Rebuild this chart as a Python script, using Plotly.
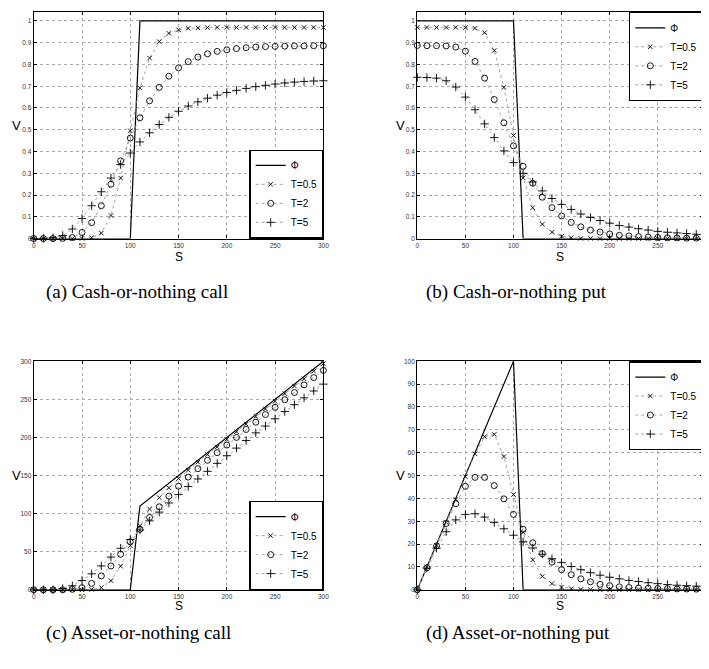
import plotly.graph_objects as go

# The page body has an 8px margin, so the figure is sized/positioned to compensate.
OFF = 8
W, H = 709 - OFF, 669 - OFF


def px(xp):
    return min(max((xp - OFF) / W, 0), 1)


def py(yp):
    return min(max(1 - (yp - OFF) / H, 0), 1)


S = [0, 10, 20, 30, 40, 50, 60, 70, 80, 90, 100, 110, 120, 130, 140, 150,
     160, 170, 180, 190, 200, 210, 220, 230, 240, 250, 260, 270, 280, 290, 300]

# (a) Cash-or-nothing call
a_phi = [0]*11 + [1]*20
a_T05 = [0, 0, 0, 0, 0, 0.001, 0.004, 0.025, 0.106, 0.278, 0.495, 0.693, 0.829, 0.905, 0.943, 0.959,
         0.966, 0.968, 0.969, 0.970, 0.970, 0.970, 0.970, 0.970, 0.970, 0.970, 0.970, 0.970, 0.970, 0.970, 0.970]
a_T2 = [0, 0, 0, 0.001, 0.005, 0.028, 0.073, 0.151, 0.250, 0.357, 0.462, 0.555, 0.633, 0.695, 0.746, 0.784,
        0.813, 0.834, 0.849, 0.860, 0.867, 0.873, 0.877, 0.880, 0.882, 0.883, 0.884, 0.885, 0.885, 0.886, 0.886]
a_T5 = [0, 0.001, 0.004, 0.014, 0.044, 0.092, 0.151, 0.215, 0.278, 0.340, 0.393, 0.444, 0.486, 0.524, 0.557, 0.585,
        0.609, 0.628, 0.645, 0.659, 0.671, 0.681, 0.690, 0.698, 0.704, 0.710, 0.715, 0.719, 0.722, 0.724, 0.725]

# (b) Cash-or-nothing put
b_phi = [1]*11 + [0]*20
b_T05 = [0.970, 0.970, 0.970, 0.970, 0.970, 0.969, 0.966, 0.946, 0.864, 0.695, 0.474, 0.279, 0.142, 0.066, 0.029, 0.011,
         0.004, 0.001, 0.001, 0, 0, 0, 0, 0, 0, 0, 0, 0, 0, 0, 0]
b_T2 = [0.887, 0.886, 0.886, 0.885, 0.880, 0.861, 0.814, 0.737, 0.639, 0.532, 0.426, 0.332, 0.254, 0.190, 0.142, 0.104,
        0.074, 0.054, 0.039, 0.030, 0.021, 0.015, 0.012, 0.009, 0.007, 0.005, 0.004, 0.003, 0.002, 0.002, 0.001]
b_T5 = [0.741, 0.740, 0.737, 0.725, 0.696, 0.650, 0.592, 0.527, 0.464, 0.403, 0.349, 0.300, 0.260, 0.219, 0.184, 0.157,
        0.134, 0.113, 0.097, 0.083, 0.071, 0.060, 0.053, 0.045, 0.039, 0.033, 0.029, 0.026, 0.023, 0.020, 0.018]

# (c) Asset-or-nothing call
c_phi = [0]*11 + [110, 120, 130, 140, 150, 160, 170, 180, 190, 200, 210, 220, 230, 240, 250, 260, 270, 280, 290, 300]
c_T05 = [0, 0, 0, 0, 0, 0, 0.5, 3, 12, 31, 58, 84, 106, 121, 134, 146,
         157, 167.5, 177.5, 187.5, 197.5, 207.5, 217.5, 227.5, 237.5, 247.5, 257.5, 267.5, 277, 287, 297]
c_T2 = [0, 0, 0, 0, 0.7, 2.7, 8.4, 18.3, 31.3, 46.7, 63, 79.5, 95, 109, 123, 136,
        148, 159, 170, 180, 190, 200, 210.5, 220, 230, 239.5, 249.5, 259, 269, 278.5, 288]
c_T5 = [0, 0, 0.1, 1.7, 5.3, 12.2, 21, 31.4, 43, 54.6, 66, 78.5, 90.5, 102, 114, 125,
        135.5, 145.5, 155.5, 166, 176, 186, 196, 206, 215, 224.5, 234, 243, 252, 261, 270]

# (d) Asset-or-nothing put
d_phi = [0, 10, 20, 30, 40, 50, 60, 70, 80, 90, 100] + [0]*20
d_T05 = [0, 10, 19.5, 29.5, 39.5, 49.5, 59.5, 67, 68, 58.3, 41.7, 25.1, 13.1, 5.9, 2.7, 1.2,
         0.5, 0.2, 0.1, 0, 0, 0, 0, 0, 0, 0, 0, 0, 0, 0, 0]
d_T2 = [0, 9.6, 19.2, 29, 37.7, 45.3, 49.2, 49.2, 45.6, 39.8, 33, 26.5, 20.6, 15.8, 12.1, 8.8,
        6.6, 4.8, 3.5, 2.4, 1.8, 1.3, 1.0, 0.8, 0.7, 0.6, 0.5, 0.4, 0.35, 0.3, 0.3]
d_T5 = [0, 9.5, 18.2, 25.4, 30.6, 33, 33.3, 31.8, 29.4, 26.7, 23.9, 21, 18.3, 15.6, 13.6, 11.9,
        10.2, 8.8, 7.5, 6.4, 5.5, 4.8, 4.1, 3.6, 3.1, 2.7, 2.3, 2.0, 1.8, 1.6, 1.4]

legend_names = ["\u03a6", "T=0.5", "T=2", "T=5"]
captions = ["(a) Cash-or-nothing call", "(b) Cash-or-nothing put",
            "(c) Asset-or-nothing call", "(d) Asset-or-nothing put"]

panels = [
    (a_phi, a_T05, a_T2, a_T5),
    (b_phi, b_T05, b_T2, b_T5),
    (c_phi, c_T05, c_T2, c_T5),
    (d_phi, d_T05, d_T2, d_T5),
]

# target screen pixel boxes (left, right, top, bottom); top row clipped at the page margin
boxes = [(32, 325, 8, 237), (420, 709, 8, 237), (32, 325, 361, 592), (420, 709, 361, 592)]
xranges = [[0, 300], [0, 297], [0, 300], [0, 297]]
yranges = [[0, 1.041], [0, 1.041], [0, 300], [0, 100]]
ycash = ([0, 0.1, 0.2, 0.3, 0.4, 0.5, 0.6, 0.7, 0.8, 0.9, 1],
         ["0", "0.1", "0.2", "0.3", "0.4", "0.5", "0.6", "0.7", "0.8", "0.9", "1"])
yticks = [
    ycash, ycash,
    ([0, 50, 100, 150, 200, 250, 300], ["0", "50", "100", "150", "200", "250", "300"]),
    ([0, 10, 20, 30, 40, 50, 60, 70, 80, 90, 100],
     ["0", "10", "20", "30", "40", "50", "60", "70", "80", "90", "100"]),
]
xtickvals = [0, 50, 100, 150, 200, 250, 300]
legpos = [(325, 237, "right", "bottom"), (709, 8, "right", "top"),
          (325, 592, "right", "bottom"), (709, 361, "right", "top")]
s_offsets = [19, 19, 16, 16]

markers = [None, ("x-thin-open", 4.5), ("circle-open", 6), ("cross-thin-open", 6)]

fig = go.Figure()
layout = dict(width=W, height=H, margin=dict(l=0, r=0, t=0, b=0),
              paper_bgcolor="white", plot_bgcolor="white", showlegend=True,
              font=dict(family="Liberation Sans, Arial, sans-serif", color="black"))
annotations = []

for i, (series, box) in enumerate(zip(panels, boxes)):
    sfx = "" if i == 0 else str(i + 1)
    xa, ya = "x" + sfx, "y" + sfx
    leg = "legend" + sfx
    for j, vals in enumerate(series):
        if j == 0:
            fig.add_trace(go.Scatter(x=S, y=vals, mode="lines", name=legend_names[j],
                                     line=dict(color="black", width=1.2),
                                     xaxis=xa, yaxis=ya, legend=leg, cliponaxis=True))
        else:
            sym, sz = markers[j]
            fig.add_trace(go.Scatter(x=S, y=vals, mode="lines+markers", name=legend_names[j],
                                     line=dict(color="#9a9a9a", width=0.9, dash="dot"),
                                     marker=dict(symbol=sym, size=sz, color="black",
                                                 line=dict(color="black", width=0.9)),
                                     xaxis=xa, yaxis=ya, legend=leg, cliponaxis=False))
    l, r, t, b = box
    axcommon = dict(showline=True, linecolor="black", linewidth=1.3, mirror="ticks",
                    ticks="inside", ticklen=3, tickcolor="black", showgrid=True,
                    gridcolor="#a8a8a8", griddash="dot", gridwidth=1, zeroline=False,
                    tickfont=dict(size=6.5, color="#333333", family="Liberation Sans, Arial"))
    layout["xaxis" + sfx] = dict(domain=[px(l), px(r)], anchor=ya, range=xranges[i],
                                 tickvals=xtickvals, ticktext=[str(v) for v in xtickvals],
                                 **axcommon)
    layout["yaxis" + sfx] = dict(domain=[py(b), py(t)], anchor=xa, range=yranges[i],
                                 tickvals=yticks[i][0], ticktext=yticks[i][1], **axcommon)
    lx, ly, xan, yan = legpos[i]
    layout[leg] = dict(x=px(lx), y=py(ly), xanchor=xan, yanchor=yan,
                       xref="paper", yref="paper",
                       bgcolor="white", bordercolor="black", borderwidth=1.3,
                       font=dict(size=10, family="Liberation Sans, Arial"), itemwidth=30,
                       tracegroupgap=0)
    annotations.append(dict(text="S", x=px((l + r) / 2), y=py(b + s_offsets[i]),
                            xref="paper", yref="paper", showarrow=False,
                            xanchor="center", yanchor="middle",
                            font=dict(size=12, family="Liberation Sans, Arial")))
    annotations.append(dict(text="V", x=px(l - 17), y=py((t + b) / 2), xref="paper", yref="paper",
                            showarrow=False, xanchor="center", yanchor="middle",
                            font=dict(size=13, family="Liberation Sans, Arial")))

cap_pos = [(42, 291), (427, 291), (42, 636), (427, 636)]
for cap, (cx, cy) in zip(captions, cap_pos):
    annotations.append(dict(text=cap, x=px(cx), y=py(cy), xref="paper", yref="paper",
                            xanchor="left", yanchor="middle", showarrow=False,
                            font=dict(size=19, family="Liberation Serif, Times New Roman, serif")))

layout["annotations"] = annotations
fig.update_layout(**layout)
fig.write_html("out.html")
